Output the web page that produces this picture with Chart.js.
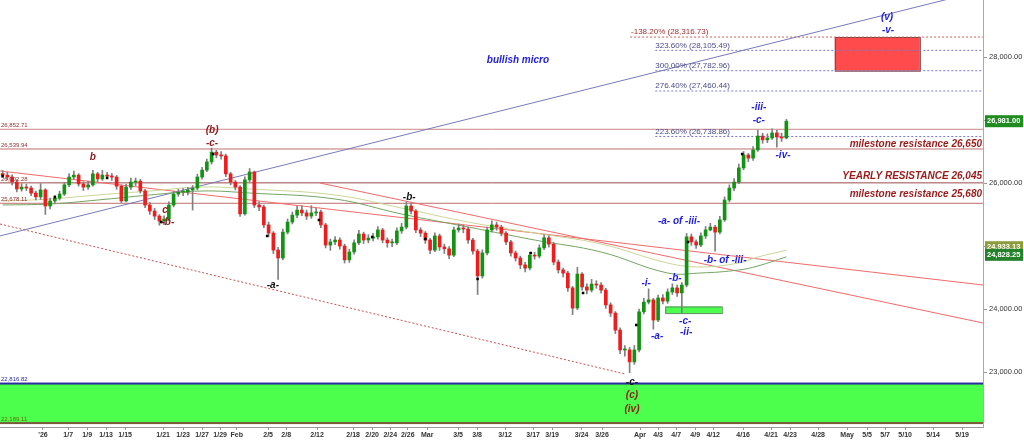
<!DOCTYPE html>
<html>
<head>
<meta charset="utf-8">
<script src="https://cdn.jsdelivr.net/npm/chart.js@4.4.1/dist/chart.umd.min.js"></script>
<style>
  html, body { margin: 0; padding: 0; background: #fff; }
</style>
</head>
<body>
<canvas id="myChartWaves" width="1024" height="440"></canvas>
<script>
// two bars per session, x = bar number
var closes = [26125,26095,26015,25905,25935,25920,25840,25780,25890,25635,
  25715,25760,25825,25970,26095,26125,25985,25935,25970,26145,
  26065,26125,26110,26095,25950,25715,25935,26015,26030,25875,
  25650,25555,25475,25395,25430,25650,25825,25855,25855,25890,
  25920,26095,26205,26335,26490,26445,26430,26145,26015,25935,
  25510,26050,26175,25650,25620,25335,25205,24935,24810,25220,
  25380,25490,25570,25525,25475,25525,25540,25335,25015,25065,
  25095,25000,24780,24905,25050,25190,25095,25125,25145,25255,
  25095,25050,25050,25240,25300,25635,25555,25255,25205,25095,
  24935,25160,24985,24955,24855,25255,25285,25270,25095,24920,
  24525,24890,25255,25335,25300,25205,25065,24890,24810,24700,
  24650,24855,24840,24970,25130,25030,24745,24620,24570,24335,
  24015,24555,24350,24300,24395,24380,24300,24065,23935,23665,
  23350,23350,23160,23350,23955,24110,24145,23825,24175,24125,
  24270,24335,24255,24380,25145,25065,25015,25160,25255,25300,
  25220,25415,25730,25920,26015,26240,26445,26395,26525,26745,
  26685,26715,26795,26730,26715,26981];

var highs = [26200,26170,26130,26050,25990,25980,25950,25870,25990,25910,
  25760,25800,25870,26010,26150,26190,26150,26020,26030,26200,
  26170,26200,26170,26150,26120,25970,25980,26080,26080,26060,
  25900,25690,25600,25500,25480,25700,25870,25900,25910,25930,
  25960,26140,26250,26380,26555,26520,26500,26460,26170,26040,
  25960,26100,26230,26190,25700,25650,25380,25230,24980,25270,
  25430,25540,25630,25640,25570,25640,25600,25570,25360,25110,
  25150,25130,25030,24950,25100,25250,25220,25180,25200,25310,
  25280,25130,25110,25290,25360,25700,25680,25580,25290,25230,
  25120,25210,25190,25030,24990,25300,25350,25330,25300,25120,
  24950,24940,25300,25400,25380,25330,25230,25090,24920,24840,
  24740,24900,24900,25020,25180,25160,25060,24780,24650,24600,
  24360,24660,24580,24400,24470,24450,24420,24330,24100,23960,
  23700,23420,23390,23420,24000,24170,24320,24170,24220,24230,
  24320,24400,24380,24420,25200,25190,25100,25210,25310,25360,
  25330,25470,25780,25970,26070,26300,26500,26470,26580,26840,
  26790,26780,26860,26840,26790,27010];

var lows = [26090,26050,25970,25860,25870,25880,25800,25730,25740,25500,
  25590,25680,25730,25800,25940,26060,25950,25880,25900,25950,
  26020,26040,26070,26040,25900,25690,25700,25900,25960,25840,
  25610,25500,25420,25330,25340,25400,25620,25790,25800,25810,
  25570,25890,26060,26180,26300,26400,26380,26100,25970,25890,
  25470,25490,26020,25610,25560,25290,25150,24880,24470,24780,
  25190,25350,25450,25480,25420,25440,25480,25290,24970,24930,
  25020,24950,24730,24740,24870,25020,25040,25050,25080,25110,
  25050,24980,24990,25020,25200,25270,25510,25210,25150,25040,
  24880,24910,24930,24880,24800,24830,25220,25210,25040,24870,
  24230,24490,24860,25220,25250,25160,25020,24840,24760,24640,
  24590,24620,24790,24810,24940,24980,24700,24570,24510,24280,
  23910,23990,24300,24240,24270,24330,24250,24010,23880,23610,
  23290,23250,22990,23120,23320,23920,24080,23680,23800,24080,
  24090,24230,24200,23940,24350,25010,24960,24990,25120,25240,
  24920,25190,25390,25700,25880,25990,26210,26340,26360,26500,
  26630,26640,26690,26570,26660,26700];

var firstOpen = 26150;

// black session-open squares
var markX = [0, 11, 22, 33.4, 44.3, 55.7, 66.6, 77.8, 89, 100, 111.2, 122.2, 133.4, 144.3, 155.7];
var markY = [26111, 25778, 26080, 25381, 26460, 25159, 25413, 25143, 25111, 24477, 24889, 24254, 23746, 25064, 26460];

// moving averages
var maX = [0, 10, 20, 31, 42, 52, 70, 84, 98, 112, 126, 140, 147, 155, 159, 165];
var maFast = [25714, 25746, 25810, 25873, 25937, 25905, 25810, 25603, 25381, 25206, 25032, 24730, 24667, 24730, 24825, 24933.13];
var maSlow = [25651, 25667, 25730, 25810, 25873, 25841, 25746, 25508, 25302, 25095, 24905, 24572, 24572, 24619, 24683, 24828.25];

var tickPos = [8.5, 13.8, 17.8, 21.8, 25.8, 33.8, 38.0, 42.0, 45.8, 49.3,
  55.9, 59.7, 66.2, 73.8, 77.8, 81.6, 85.3, 89.4, 95.9, 99.9,
  105.8, 111.7, 115.7, 121.9, 126.2, 134.2, 138.0, 141.8, 145.8, 149.6,
  155.9, 161.8, 165.8, 171.7, 177.8, 182.0, 185.8, 190.0, 195.9, 202.0];
var tickLabels = ["'26", "1/7", "1/9", "1/13", "1/15", "1/21", "1/23", "1/27", "1/29", "Feb",
  "2/5", "2/8", "2/12", "2/18", "2/20", "2/24", "2/26", "Mar", "3/5", "3/8",
  "3/12", "3/17", "3/19", "3/24", "3/26", "Apr", "4/3", "4/7", "4/9", "4/12",
  "4/16", "4/21", "4/23", "4/28", "May", "5/5", "5/7", "5/10", "5/14", "5/19"];
var yTicks = [23000, 24000, 25000, 26000, 27000, 28000];

var levels = [26852.71, 26539.94, 26002.28, 25678.11];
var levelLabels = ['26,852.71', '26,539.94', '26,002.28', '25,678.11'];
var fibLevels = [28105.49, 27782.96, 27460.44, 26738.86];
var fibLabels = ['323.60% (28,105.49)', '300.00% (27,782.96)', '276.40% (27,460.44)', '223.60% (26,738.86)'];
var extLevel = 28316.73;
var extLabel = '-138.20% (28,316.73)';
var greenZone = [22816.82, 22189.11];
var greenZoneLabels = ['22,816.82', '22,189.11'];
var targetBox = { x: [175.2, 193.1], y: [28316.73, 27782.96] };
var supportBox = { x: [139.5, 151.4], y: [24040, 23935] };

var trendUp = [[-0.55, 25160], [206.4, 29057]];
var channelLow = [[-0.55, 25349], [131, 22969]];
var redLineA = [[-0.55, 26191], [206.4, 24381]];
var redLineB = [[66.8, 26000], [206.4, 23778]];

var resistTexts = ['milestone resistance 26,650', 'YEARLY RESISTANCE 26,045', 'milestone resistance 25,680'];
var resistAt = [26619, 26111, 25818];

var R = '#8e1a1a', K = '#111111', B = '#1c1ce8';
var waveLabels = [
  ['b', 19.0, 26413, R], ['(b)', 44.1, 26841, R], ['-c-', 44.1, 26635, R],
  ['c', 34.2, 25572, R], ['-b-', 34.8, 25381, R],
  ['-a-', 56.9, 24381, K], ['-b-', 85.6, 25778, K], ['-c-', 132.5, 22841, K],
  ['(c)', 132.5, 22635, R], ['(iv)', 132.5, 22413, R],
  ['bullish micro', 108.5, 27953, B], ['(v)', 186.2, 28635, B], ['-v-', 186.4, 28429, B],
  ['-iii-', 159.2, 27207, B], ['-c-', 159.2, 27000, B], ['-iv-', 164.3, 26445, B],
  ['-a- of -iii-', 142.4, 25397, B], ['-b- of -iii-', 152.1, 24778, B],
  ['-i-', 135.5, 24413, B], ['-b-', 141.6, 24492, B], ['-a-', 137.8, 23572, B],
  ['-c-', 143.7, 23810, B], ['-ii-', 143.9, 23635, B]
];

var FONT = '"Liberation Sans", Arial, sans-serif';
var xMin = -0.55, xMax = 206.4;

var opens = closes.map(function (c, i) { return i === 0 ? firstOpen : closes[i - 1]; });

function seg(p) { return [{ x: p[0][0], y: p[0][1] }, { x: p[1][0], y: p[1][1] }]; }
function hline(v, from) { return [{ x: from, y: v }, { x: xMax, y: v }]; }
function lineSet(data, color, dash, order) {
  return { type: 'line', data: data, borderColor: color, borderWidth: 1, borderDash: dash || [],
    pointRadius: 0, tension: 0, order: order || 8 };
}

var overlay = {
  id: 'overlay',
  beforeDatasetsDraw: function (chart) {
    var ctx = chart.ctx, xs = chart.scales.x, ys = chart.scales.y, a = chart.chartArea;
    ctx.save();
    // bottom green zone
    var t = ys.getPixelForValue(greenZone[0]), b = ys.getPixelForValue(greenZone[1]);
    ctx.fillStyle = '#4cff4c';
    ctx.fillRect(a.left, t, a.right - a.left, b - t);
    ctx.fillStyle = '#2b2b9e';
    ctx.fillRect(a.left, t - 1, a.right - a.left, 2);
    ctx.fillStyle = '#7a5a3a';
    ctx.fillRect(a.left, b - 1, a.right - a.left, 2);
    // support box
    var x1 = xs.getPixelForValue(supportBox.x[0]), x2 = xs.getPixelForValue(supportBox.x[1]);
    var y1 = ys.getPixelForValue(supportBox.y[0]), y2 = ys.getPixelForValue(supportBox.y[1]);
    ctx.fillStyle = '#4cff4c';
    ctx.fillRect(x1, y1, x2 - x1, y2 - y1);
    ctx.strokeStyle = '#5a8a5a';
    ctx.lineWidth = 1;
    ctx.strokeRect(x1 + 0.5, y1 + 0.5, x2 - x1, y2 - y1);
    // target box
    x1 = xs.getPixelForValue(targetBox.x[0]); x2 = xs.getPixelForValue(targetBox.x[1]);
    y1 = ys.getPixelForValue(targetBox.y[0]); y2 = ys.getPixelForValue(targetBox.y[1]);
    ctx.fillStyle = '#ff4b4b';
    ctx.fillRect(x1, y1, x2 - x1, y2 - y1);
    ctx.strokeStyle = '#7a4040';
    ctx.strokeRect(x1 + 0.5, y1 + 0.5, x2 - x1, y2 - y1);
    ctx.restore();
  },
  afterDatasetsDraw: function (chart) {
    var ctx = chart.ctx, xs = chart.scales.x, ys = chart.scales.y, a = chart.chartArea;
    ctx.save();
    ctx.textBaseline = 'bottom';
    ctx.textAlign = 'left';
    // small level labels at left
    ctx.font = '6px ' + FONT;
    ctx.fillStyle = '#8e3030';
    levels.forEach(function (v, i) {
      ctx.fillText(levelLabels[i], a.left + 1, ys.getPixelForValue(v) - 1);
    });
    ctx.fillStyle = '#2b2b9e';
    ctx.fillText(greenZoneLabels[0], a.left + 1, ys.getPixelForValue(greenZone[0]) - 1);
    ctx.fillStyle = '#6a6a10';
    ctx.fillText(greenZoneLabels[1], a.left + 1, ys.getPixelForValue(greenZone[1]) - 1);
    // fib labels
    ctx.font = '8px ' + FONT;
    ctx.fillStyle = '#4a4a8c';
    fibLevels.forEach(function (v, i) {
      ctx.fillText(fibLabels[i], xs.getPixelForValue(137.4), ys.getPixelForValue(v) - 1);
    });
    ctx.fillStyle = '#a03030';
    ctx.fillText(extLabel, xs.getPixelForValue(132.3), ys.getPixelForValue(extLevel) - 1);
    // resistance texts
    ctx.font = 'italic bold 10px ' + FONT;
    ctx.fillStyle = '#9a1a1a';
    ctx.textAlign = 'right';
    ctx.textBaseline = 'middle';
    resistTexts.forEach(function (s, i) {
      ctx.fillText(s, a.right - 1, ys.getPixelForValue(resistAt[i]));
    });
    // wave labels
    ctx.textAlign = 'center';
    waveLabels.forEach(function (w) {
      ctx.fillStyle = w[3];
      ctx.fillText(w[0], xs.getPixelForValue(w[1]), ys.getPixelForValue(w[2]));
    });
    ctx.restore();
  },
  afterDraw: function (chart) {
    var ctx = chart.ctx, ys = chart.scales.y, a = chart.chartArea;
    function tag(text, value, bg, shift) {
      var py = ys.getPixelForValue(value) + shift;
      ctx.fillStyle = bg;
      ctx.fillRect(a.right + 2, py - 6, 38, 12);
      ctx.fillStyle = '#ffffff';
      ctx.fillText(text, a.right + 4, py);
    }
    ctx.save();
    ctx.font = 'bold 7.5px ' + FONT;
    ctx.textAlign = 'left';
    ctx.textBaseline = 'middle';
    tag('26,981.00', closes[closes.length - 1], '#1e8c1e', 0);
    tag('24,933.13', maFast[maFast.length - 1], '#8c9c3c', -3);
    tag('24,828.25', maSlow[maSlow.length - 1], '#23822a', -2);
    ctx.restore();
  }
};

var ctx = document.getElementById('myChartWaves');

new Chart(ctx, {
  type: 'bar',
  data: {
    datasets: [
      {
        label: 'marks',
        type: 'line',
        data: markX.map(function (x, i) { return { x: x, y: markY[i] }; }),
        showLine: false,
        pointStyle: 'rect',
        pointRadius: 1.8,
        pointBackgroundColor: '#000',
        pointBorderWidth: 0,
        order: 1
      },
      {
        label: 'bodies',
        data: closes.map(function (c, i) { return { x: i, y: [opens[i], c] }; }),
        backgroundColor: closes.map(function (c, i) { return c >= opens[i] ? '#129412' : '#ee1c1c'; }),
        barThickness: 3,
        minBarLength: 1,
        grouped: false,
        order: 2
      },
      {
        label: 'wicks',
        data: closes.map(function (c, i) { return { x: i, y: [lows[i], highs[i]] }; }),
        backgroundColor: '#808080',
        barThickness: 1,
        grouped: false,
        order: 3
      },
      Object.assign(lineSet(maX.map(function (x, i) { return { x: x, y: maFast[i] }; }), '#cbd596', null, 6), { tension: 0.4 }),
      Object.assign(lineSet(maX.map(function (x, i) { return { x: x, y: maSlow[i] }; }), '#73a563', null, 6), { tension: 0.4 }),
      lineSet(seg(trendUp), '#7a7ab8'),
      lineSet(seg(channelLow), '#c85050', [2, 2]),
      lineSet(seg(redLineA), '#f26a6a'),
      lineSet(seg(redLineB), '#f26a6a'),
      lineSet(hline(levels[0], xMin), '#cc8888'),
      lineSet(hline(levels[1], xMin), '#c07070'),
      lineSet(hline(levels[2], xMin), '#9a4a4a'),
      lineSet(hline(levels[3], xMin), '#c07070'),
      lineSet(hline(fibLevels[0], 137.4), '#7a7ac8', [2, 2]),
      lineSet(hline(fibLevels[1], 137.4), '#7a7ac8', [2, 2]),
      lineSet(hline(fibLevels[2], 137.4), '#7a7ac8', [2, 2]),
      lineSet(hline(fibLevels[3], 137.4), '#7a7ac8', [2, 2]),
      lineSet(hline(extLevel, 132.1), '#d06060', [2, 2])
    ]
  },
  options: {
    responsive: false,
    animation: false,
    devicePixelRatio: 1,
    layout: { padding: 0, autoPadding: false },
    plugins: { legend: { display: false }, tooltip: { enabled: false } },
    scales: {
      x: {
        type: 'linear',
        offset: false,
        min: xMin,
        max: xMax,
        grid: { drawOnChartArea: false, tickLength: 3, color: '#999', offset: false },
        border: { color: '#999' },
        afterFit: function (s) { s.height = 13; s.paddingLeft = 0; s.paddingRight = 0; },
        afterBuildTicks: function (s) { s.ticks = tickPos.map(function (v) { return { value: v }; }); },
        ticks: {
          autoSkip: false,
          maxRotation: 0,
          padding: 1,
          color: '#333',
          font: { family: FONT, size: 7, weight: 'bold' },
          callback: function (v, i) { return tickLabels[i]; }
        }
      },
      y: {
        position: 'right',
        min: 22127,
        max: 28905,
        grid: { drawOnChartArea: false, tickLength: 4, color: '#999' },
        border: { color: '#aaa' },
        afterFit: function (s) { s.width = 41; s.paddingTop = 0; s.paddingBottom = 0; },
        afterBuildTicks: function (s) { s.ticks = yTicks.map(function (v) { return { value: v }; }); },
        ticks: {
          padding: 2,
          color: '#333',
          font: { family: FONT, size: 7.5 },
          callback: function (v) { return v.toLocaleString('en-US', { minimumFractionDigits: 2, maximumFractionDigits: 2 }); }
        }
      }
    }
  },
  plugins: [overlay]
});
</script>
</body>
</html>
